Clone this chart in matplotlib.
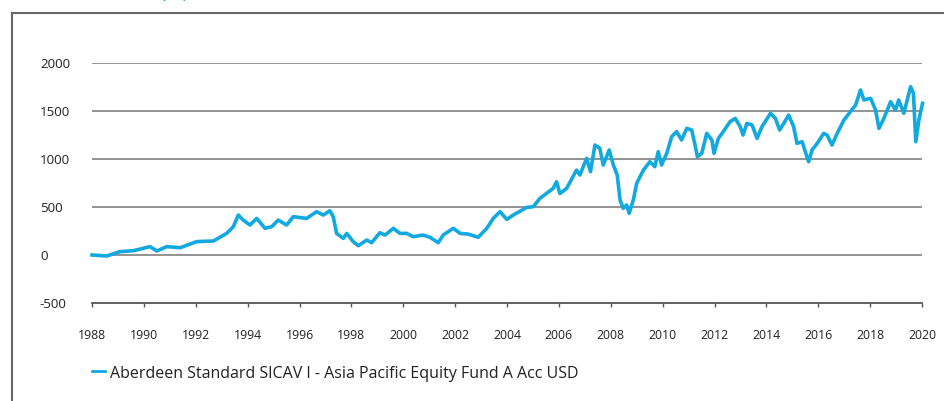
import matplotlib.pyplot as plt
from matplotlib.lines import Line2D

plt.rcParams['font.family'] = ['Open Sans', 'DejaVu Sans']
plt.rcParams['axes.unicode_minus'] = False

# cumulative performance (%)
years = [
    1988.0, 1988.57, 1989.08, 1989.6, 1990.24, 1990.5, 1990.88, 1991.4, 1992.03, 1992.68,
    1993.19, 1993.45, 1993.64, 1993.83, 1994.09, 1994.35, 1994.67, 1994.93, 1995.18, 1995.5,
    1995.76, 1996.27, 1996.66, 1996.92, 1997.17, 1997.3, 1997.43, 1997.69, 1997.82, 1998.07,
    1998.27, 1998.59, 1998.78, 1999.1, 1999.3, 1999.62, 1999.87, 2000.13, 2000.39, 2000.77,
    2001.03, 2001.35, 2001.54, 2001.93, 2002.19, 2002.5, 2002.89, 2003.22, 2003.47, 2003.73,
    2003.99, 2004.24, 2004.76, 2005.01, 2005.27, 2005.78, 2005.91, 2006.04, 2006.3, 2006.68,
    2006.81, 2007.07, 2007.22, 2007.39, 2007.58, 2007.71, 2007.94, 2008.1, 2008.25, 2008.36,
    2008.48, 2008.61, 2008.71, 2008.87, 2009.0, 2009.26, 2009.51, 2009.7, 2009.83, 2009.96,
    2010.16, 2010.35, 2010.54, 2010.73, 2010.93, 2011.12, 2011.25, 2011.34, 2011.51, 2011.7,
    2011.9, 2011.98, 2012.15, 2012.34, 2012.6, 2012.8, 2012.99, 2013.1, 2013.25, 2013.45,
    2013.64, 2013.83, 2014.16, 2014.35, 2014.51, 2014.67, 2014.86, 2015.05, 2015.18, 2015.38,
    2015.5, 2015.63, 2015.76, 2015.96, 2016.21, 2016.34, 2016.53, 2016.73, 2016.99, 2017.24,
    2017.44, 2017.63, 2017.76, 2018.02, 2018.21, 2018.34, 2018.53, 2018.79, 2018.98, 2019.1,
    2019.3, 2019.56, 2019.67, 2019.76, 2019.88, 2020.02,
]
values = [
    0, -10, 35, 45, 87, 42, 87, 76, 139, 146,
    225, 295, 416, 364, 312, 381, 278, 295, 364, 312,
    399, 381, 451, 416, 461, 399, 225, 173, 225, 139,
    97, 156, 128, 232, 208, 278, 225, 225, 191, 208,
    184, 128, 208, 278, 225, 218, 184, 278, 381, 451,
    371, 416, 496, 503, 590, 694, 763, 640, 694, 885,
    833, 1007, 868, 1146, 1111, 937, 1094, 937, 833, 573,
    486, 521, 434, 573, 747, 885, 972, 920, 1076, 937,
    1059, 1233, 1285, 1198, 1319, 1302, 1146, 1024, 1059, 1267,
    1198, 1059, 1215, 1285, 1389, 1423, 1337, 1250, 1371, 1354,
    1215, 1337, 1476, 1423, 1302, 1371, 1458, 1337, 1163, 1180,
    1076, 972, 1094, 1163, 1267, 1250, 1146, 1267, 1406, 1493,
    1562, 1719, 1615, 1632, 1510, 1319, 1423, 1597, 1510, 1615,
    1476, 1753, 1684, 1180, 1406, 1580,
]
series_name = 'Aberdeen Standard SICAV I - Asia Pacific Equity Fund A Acc USD'
x_ticks = list(range(1988, 2021, 2))
y_ticks = [-500, 0, 500, 1000, 1500, 2000]

blue = '#12a8e0'
W, H = 944, 401
fig = plt.figure(figsize=(W / 100, H / 100), dpi=100)
ax = fig.add_axes([92 / W, (H - 303) / H, 830 / W, 240 / H])

ax.plot(years, values, color=blue, lw=2.6, clip_on=False, zorder=3)

ax.set_xlim(1988, 2020)
ax.set_ylim(-500, 2000)
ax.set_xticks(x_ticks)
ax.set_yticks(y_ticks)
for v in y_ticks[1:]:
    ax.axhline(v, color='#8a8a8a', lw=1.3, zorder=1)

for s in ['top', 'right', 'left']:
    ax.spines[s].set_visible(False)
ax.spines['bottom'].set_color('#555555')
ax.spines['bottom'].set_linewidth(1.3)

ax.tick_params(axis='x', length=3, width=1, color='#555555', pad=16,
               labelsize=8.8, labelcolor='#222222')
ax.tick_params(axis='y', length=0, pad=37.5, labelsize=9.6, labelcolor='#222222')
for lab in ax.get_yticklabels():
    lab.set_horizontalalignment('left')

# outer frame (left and top only)
fig.add_artist(Line2D([12 / W, 12 / W], [0, 1 - 13 / H], color='#666666', lw=1.5))
fig.add_artist(Line2D([12 / W, 1], [1 - 13 / H, 1 - 13 / H], color='#666666', lw=1.5))

# title, cut off by the top edge
fig.text(188 / W, 1 + 1.8 / H, 'Performance (%)', color=blue, fontsize=14,
         ha='right', va='baseline')

# legend
fig.add_artist(Line2D([92 / W, 105 / W], [1 - 371 / H, 1 - 371 / H], color=blue, lw=2))
fig.text(110 / W, 1 - 374.5 / H, series_name, fontsize=11.5, color='#222222',
         ha='left', va='center')

fig.savefig('out.png', dpi=100)
